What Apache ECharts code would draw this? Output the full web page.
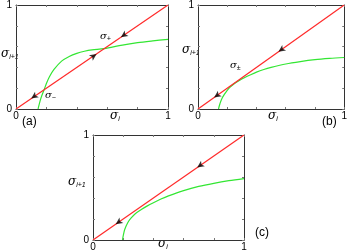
<!DOCTYPE html>
<html><head><meta charset="utf-8">
<script src="https://cdn.jsdelivr.net/npm/echarts@6/dist/echarts.min.js"></script>
<style>html,body{margin:0;padding:0;background:#fff}#c{width:350px;height:252px}</style>
</head><body><div id="c"></div>
<script>
// identity line sigma_{i+1} = sigma_i
const diagX = [0, 1];
const diagY = [0, 1];
// green map curves
const aX = [0.145,0.15,0.16,0.17,0.185,0.2,0.22,0.25,0.3,0.35,0.4,0.45,0.5,0.58,0.7,0.8,0.9,1.0];
const aY = [0,0.03,0.085,0.13,0.185,0.245,0.31,0.38,0.46,0.505,0.535,0.555,0.568,0.58,0.615,0.638,0.655,0.67];
const bX = [0.14,0.15,0.16,0.18,0.2,0.22,0.25,0.28,0.32,0.36,0.4,0.45,0.5,0.6,0.7,0.8,0.9,1.0];
const bY = [0,0.05,0.09,0.14,0.18,0.21,0.245,0.272,0.303,0.33,0.355,0.38,0.4,0.433,0.456,0.474,0.486,0.495];
const cX = [0.195,0.2,0.21,0.23,0.25,0.28,0.32,0.36,0.4,0.45,0.5,0.6,0.7,0.8,0.9,1.0];
const cY = [0,0.04,0.1,0.165,0.205,0.25,0.29,0.325,0.355,0.39,0.42,0.47,0.51,0.54,0.565,0.585];
// arrow positions on the diagonal and direction (+1 up-right, -1 down-left)
const arrA = [0.69, 0.53, 0.10];
const dirA = [-1, 1, -1];
const arrB = [0.55, 0.11];
const dirB = [-1, -1];
const arrC = [0.69, 0.15];
const dirC = [-1, -1];
// tick labels
const tickVals = [0, 0.2, 0.4, 0.6, 0.8, 1];
const tickText = {0: '0', 1: '1'};

const zip = (xs, ys) => xs.map((x, i) => [x, ys[i]]);
const grids = [
  {left: 16, top: 2, width: 152, height: 107},
  {left: 198, top: 2, width: 151, height: 107},
  {left: 93, top: 135, width: 151, height: 107}
];
const lab = {fontFamily: 'Liberation Sans, Arial, sans-serif', fontSize: 10, color: '#000'};
const fmt = v => (tickText[v] !== undefined ? tickText[v] : '');
const xAxis = [], yAxis = [];
grids.forEach((g, i) => {
  ['bottom', 'top'].forEach(pos => xAxis.push({
    type: 'value', gridIndex: i, min: 0, max: 1, interval: 0.2, position: pos,
    axisLine: {show: true, onZero: false, lineStyle: {color: '#333', width: 1}},
    axisTick: {show: true, inside: true, length: 2, lineStyle: {color: '#777'}},
    axisLabel: {show: pos === 'bottom', formatter: fmt, margin: 2, ...lab},
    splitLine: {show: false}
  }));
  ['left', 'right'].forEach(pos => yAxis.push({
    type: 'value', gridIndex: i, min: 0, max: 1, interval: 0.2, position: pos,
    axisLine: {show: true, onZero: false, lineStyle: {color: '#333', width: 1}},
    axisTick: {show: true, inside: true, length: 2, lineStyle: {color: '#777'}},
    axisLabel: {show: pos === 'left', formatter: fmt, margin: 4, ...lab},
    splitLine: {show: false}
  }));
});
const greens = [zip(aX, aY), zip(bX, bY), zip(cX, cY)];
const arrows = [[arrA, dirA], [arrB, dirB], [arrC, dirC]];
const series = [];
grids.forEach((g, i) => {
  series.push({type: 'line', xAxisIndex: 2*i, yAxisIndex: 2*i, data: greens[i], smooth: 0.3,
    symbol: 'none', lineStyle: {color: '#33e633', width: 1.2}, silent: true, z: 2});
  series.push({type: 'line', xAxisIndex: 2*i, yAxisIndex: 2*i, data: zip(diagX, diagY),
    symbol: 'none', lineStyle: {color: '#ff2a2a', width: 1.2}, silent: true, z: 3});
  const [pos, dir] = arrows[i];
  series.push({type: 'scatter', xAxisIndex: 2*i, yAxisIndex: 2*i, z: 5,
    data: pos.map((p, k) => ({value: [p, p], symbolRotate: dir[k] > 0 ? -55 : 125})),
    symbol: 'arrow', symbolSize: [5, 7], itemStyle: {color: '#000'}, silent: true});
});
const sig = (x, y, sub, size) => ({
  type: 'text', left: x, top: y, silent: true,
  style: {rich: {
      s: {fontFamily: 'DejaVu Serif, serif', fontStyle: 'italic', fontSize: size || 12, fill: '#000'},
      b: {fontFamily: 'Liberation Sans, Arial, sans-serif', fontStyle: 'italic', fontSize: 7, fill: '#000', padding: [6, 0, 0, 0]}
    }, text: '{s|σ}{b|' + sub + '}'}
});
const plain = (x, y, t) => ({type: 'text', left: x, top: y, silent: true,
  style: {text: t, fontFamily: 'Liberation Sans, Arial, sans-serif', fontSize: 12, fill: '#000'}});
const chart = echarts.init(document.getElementById('c'), null, {renderer: 'canvas'});
chart.setOption({
  animation: false,
  grid: grids.map(g => ({...g, containLabel: false})),
  xAxis, yAxis, series,
  graphic: [
    sig(1, 48, 'i+1'), sig(182, 44, 'i+1'), sig(68, 176, 'i+1'),
    sig(110, 110, 'i'), sig(268, 110, 'i'), sig(158, 238, 'i'),
    sig(100, 31, '+', 10), sig(45, 90, '−', 10), sig(230, 60, '±', 10),
    plain(22, 116, '(a)'), plain(322, 116, '(b)'), plain(255, 227, '(c)')
  ]
});
</script></body></html>
